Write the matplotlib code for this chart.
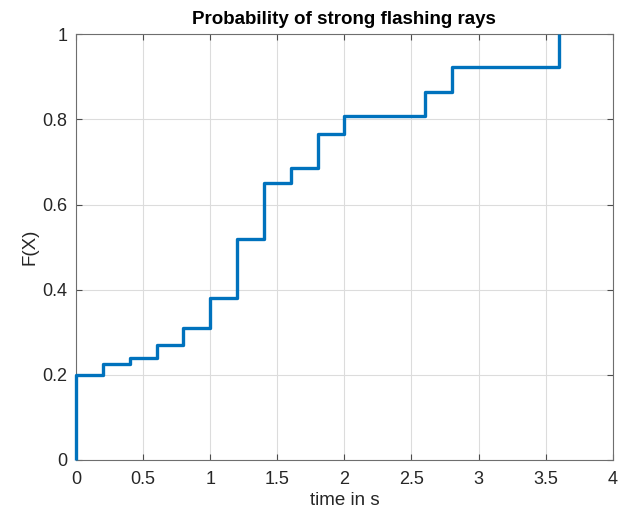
import numpy as np
import matplotlib.pyplot as plt

plt.rcParams['font.family'] = ['Liberation Sans', 'DejaVu Sans']

# empirical CDF of the flash times
t = [0, 0, 0.2, 0.4, 0.6, 0.8, 1.0, 1.2, 1.4, 1.6, 1.8, 2.0, 2.6, 2.8, 3.6]
F = [0, 0.2, 0.225, 0.239, 0.27, 0.31, 0.38, 0.52, 0.65, 0.685, 0.765, 0.807, 0.864, 0.922, 1.0]

fig = plt.figure(figsize=(6.35, 5.18), dpi=100)
ax = fig.add_axes([0.1197, 0.112, 0.8453, 0.822])

ax.step(t, F, where='post', color='#0072BD', linewidth=2.4, zorder=3,
        clip_on=False, solid_capstyle='butt')

ax.set_xlim(0, 4)
ax.set_ylim(0, 1)
ax.set_xticks(np.arange(0, 4.01, 0.5))
ax.set_xticklabels(['0', '0.5', '1', '1.5', '2', '2.5', '3', '3.5', '4'])
ax.set_yticks(np.arange(0, 1.01, 0.2))
ax.set_yticklabels(['0', '0.2', '0.4', '0.6', '0.8', '1'])
ax.grid(True, color='#dcdcdc', linewidth=0.8)
ax.set_axisbelow(True)
ax.tick_params(direction='in', top=True, right=True, length=4, width=0.8,
               colors='#4d4d4d', labelcolor='#262626', labelsize=13)
ax.tick_params(axis='x', pad=8)
ax.tick_params(axis='y', pad=6)
for s in ax.spines.values():
    s.set_color('#6e6e6e')
    s.set_linewidth(0.8)

ax.set_xlabel('time in s', fontsize=13.5, color='#262626', labelpad=3)
ax.set_ylabel('F(X)', fontsize=13.5, color='#262626', labelpad=3)
ax.set_title('Probability of strong flashing rays', fontsize=13.5, fontweight='bold', pad=7)

fig.savefig('out.png', dpi=100)
